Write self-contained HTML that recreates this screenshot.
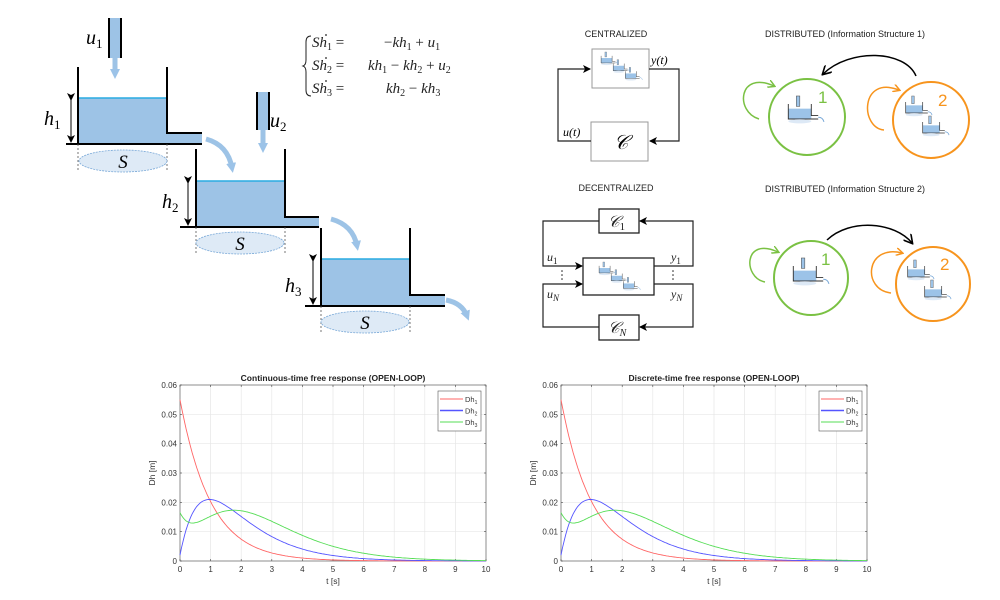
<!DOCTYPE html>
<html><head><meta charset="utf-8"><style>
html,body{margin:0;padding:0;background:#fff;}
svg{display:block;}
.m{font-family:"Liberation Serif",serif;font-style:italic;}
.a{font-family:"Liberation Sans",sans-serif;}
</style></head><body>
<svg id="sv" width="1000" height="600" viewBox="0 0 1000 600" xmlns="http://www.w3.org/2000/svg">
<defs>
<marker id="ah" markerWidth="8" markerHeight="8" refX="7" refY="4" orient="auto" markerUnits="userSpaceOnUse"><path d="M0,0 L8,4 L0,8 L2,4z" fill="#000"/></marker>
<marker id="bh" markerWidth="10" markerHeight="10" refX="5" refY="5" orient="auto" markerUnits="userSpaceOnUse"><path d="M0,0 L10,5 L0,10z" fill="#9cc3e8"/></marker>
<marker id="gh" markerWidth="8" markerHeight="8" refX="6" refY="4" orient="auto" markerUnits="userSpaceOnUse"><path d="M0,0 L7,4 L0,8" fill="none" stroke="#7ac143" stroke-width="1.5"/></marker>
<marker id="oh" markerWidth="8" markerHeight="8" refX="6" refY="4" orient="auto" markerUnits="userSpaceOnUse"><path d="M0,0 L7,4 L0,8" fill="none" stroke="#f7941d" stroke-width="1.5"/></marker>
<marker id="kh" markerWidth="10" markerHeight="10" refX="8" refY="5" orient="auto" markerUnits="userSpaceOnUse"><path d="M0,0 L9,5 L0,10" fill="none" stroke="#000" stroke-width="1.6"/></marker>
<g id="t1">
 <rect x="9" y="0" width="3" height="9" fill="#9cc3e8" stroke="#555" stroke-width="0.5"/>
 <rect x="2" y="11" width="20" height="9" fill="#9cc3e8"/>
 <path d="M2,7 V20 H28 M22,7 V17 H28" fill="none" stroke="#333" stroke-width="0.8"/>
 <path d="M28,18.5 q4,0 5,4" fill="none" stroke="#7aa9d8" stroke-width="0.9"/>
 <ellipse cx="12" cy="22" rx="10" ry="1.8" fill="#dde9f6"/>
</g>
<g id="ico">
 <use href="#t1" x="0" y="0"/>
 <use href="#t1" x="22" y="14"/>
 <use href="#t1" x="44" y="28"/>
</g>
</defs>

<!-- TANKS -->
<g fill="#9dc3e6">
<rect x="78" y="98" width="89" height="46"/><rect x="167" y="133" width="35" height="11"/>
<rect x="196" y="181" width="89" height="46"/><rect x="285" y="217" width="34" height="10"/>
<rect x="321" y="259" width="89" height="47"/><rect x="410" y="295" width="35" height="11"/>
</g>
<g stroke="#29abe2" stroke-width="1.5"><line x1="78" y1="98" x2="167" y2="98"/><line x1="196" y1="181" x2="285" y2="181"/><line x1="321" y1="259" x2="410" y2="259"/></g>
<g fill="none" stroke="#000" stroke-width="2">
<path d="M78,67 V144 H202 M167,67 V133 H202"/>
<path d="M66,144 H78"/>
<path d="M196,149 V227 H319 M285,149 V217 H319"/>
<path d="M180,227 H196"/>
<path d="M321,228 V306 H445 M410,228 V295 H445"/>
<path d="M305,306 H321"/>
</g>
<g stroke="#000" stroke-width="1">
<line x1="71" y1="100" x2="71" y2="142" marker-start="url(#ah)" marker-end="url(#ah)"/>
<line x1="188" y1="183" x2="188" y2="225" marker-start="url(#ah)" marker-end="url(#ah)"/>
<line x1="313" y1="261" x2="313" y2="304" marker-start="url(#ah)" marker-end="url(#ah)"/>
</g>
<g stroke="#555" stroke-width="0.8" stroke-dasharray="2,2">
<line x1="78" y1="144" x2="78" y2="172"/><line x1="167" y1="144" x2="167" y2="172"/>
<line x1="196" y1="227" x2="196" y2="255"/><line x1="285" y1="227" x2="285" y2="255"/>
<line x1="321" y1="306" x2="321" y2="334"/><line x1="410" y1="306" x2="410" y2="334"/>
</g>
<g fill="#deeaf6" stroke="#7aa9d8" stroke-width="0.8" stroke-dasharray="2,1">
<ellipse cx="123" cy="161" rx="44" ry="11"/><ellipse cx="240" cy="243" rx="44" ry="11"/><ellipse cx="365" cy="322" rx="44" ry="11"/>
</g>
<g class="m" font-size="19" fill="#000" text-anchor="middle">
<text x="123" y="168">S</text><text x="240" y="250">S</text><text x="365" y="329">S</text>
</g>
<g class="m" font-size="20">
<text x="44" y="125">h<tspan font-size="13" dy="4" font-style="normal">1</tspan></text>
<text x="162" y="208">h<tspan font-size="13" dy="4" font-style="normal">2</tspan></text>
<text x="285" y="292">h<tspan font-size="13" dy="4" font-style="normal">3</tspan></text>
<text x="86" y="44">u<tspan font-size="13" dy="4" font-style="normal">1</tspan></text>
<text x="270" y="127">u<tspan font-size="13" dy="4" font-style="normal">2</tspan></text>
</g>
<rect x="109" y="18" width="12" height="40" fill="#9dc3e6"/>
<path d="M109,18 V58 M121,18 V58" stroke="#000" stroke-width="2"/>
<rect x="257" y="92" width="12" height="38" fill="#9dc3e6"/>
<path d="M257,92 V130 M269,92 V130" stroke="#000" stroke-width="2"/>
<g stroke="#9dc3e6" stroke-width="5" fill="none">
<line x1="115" y1="58" x2="115" y2="74" marker-end="url(#bh)"/>
<line x1="263" y1="130" x2="263" y2="148" marker-end="url(#bh)"/>
<path d="M206,139 Q228,145 232,168" marker-end="url(#bh)"/>
<path d="M331,219 Q353,225 357,246" marker-end="url(#bh)"/>
<path d="M446,300 Q462,303 467,316" marker-end="url(#bh)"/>
</g>
<!-- equations -->
<path d="M311,36 Q306,36 306,42 V60 Q306,65 303,66 Q306,67 306,72 V90 Q306,96 311,96" fill="none" stroke="#222" stroke-width="1"/>
<g class="m" font-size="15" fill="#222">
<text x="312" y="47">Sh<tspan font-size="10" dy="3" font-style="normal">1</tspan><tspan dy="-3" font-style="normal">  =</tspan></text>
<text x="312" y="70">Sh<tspan font-size="10" dy="3" font-style="normal">2</tspan><tspan dy="-3" font-style="normal">  =</tspan></text>
<text x="312" y="93">Sh<tspan font-size="10" dy="3" font-style="normal">3</tspan><tspan dy="-3" font-style="normal">  =</tspan></text>
<text x="384" y="47"><tspan font-style="normal">−</tspan>kh<tspan font-size="10" dy="3" font-style="normal">1</tspan><tspan dy="-3" font-style="normal"> + </tspan>u<tspan font-size="10" dy="3" font-style="normal">1</tspan></text>
<text x="368" y="70">kh<tspan font-size="10" dy="3" font-style="normal">1</tspan><tspan dy="-3" font-style="normal"> − </tspan>kh<tspan font-size="10" dy="3" font-style="normal">2</tspan><tspan dy="-3" font-style="normal"> + </tspan>u<tspan font-size="10" dy="3" font-style="normal">2</tspan></text>
<text x="386" y="93">kh<tspan font-size="10" dy="3" font-style="normal">2</tspan><tspan dy="-3" font-style="normal"> − </tspan>kh<tspan font-size="10" dy="3" font-style="normal">3</tspan></text>
</g>
<g fill="#222"><circle cx="326" cy="35" r="0.9"/><circle cx="326" cy="58" r="0.9"/><circle cx="326" cy="81" r="0.9"/></g>

<g class="a" font-size="9" fill="#222" text-anchor="middle">
<text x="616" y="37">CENTRALIZED</text>
<text x="616" y="191">DECENTRALIZED</text>
<text x="845" y="37">DISTRIBUTED (Information Structure 1)</text>
<text x="845" y="192">DISTRIBUTED (Information Structure 2)</text>
</g>
<!-- CENTRALIZED -->
<rect x="592" y="49" width="57" height="39" fill="#fff" stroke="#999" stroke-width="1"/>
<use href="#ico" transform="translate(600,52) scale(0.55)"/>
<rect x="591" y="122" width="57" height="39" fill="#fff" stroke="#999" stroke-width="1"/>
<g fill="none" stroke="#222" stroke-width="1.2">
<path d="M591,141 H558 V69 H590" marker-end="url(#ah)"/>
<path d="M649,69 H679 V141 H650" marker-end="url(#ah)"/>
</g>
<text x="621" y="149" font-family="Liberation Serif,serif" font-style="italic" font-size="20" text-anchor="middle">𝒞</text>
<text x="651" y="64" class="m" font-size="12">y(t)</text>
<text x="563" y="136" class="m" font-size="12">u(t)</text>

<!-- DECENTRALIZED -->
<rect x="599" y="209" width="40" height="24" fill="#fff" stroke="#222" stroke-width="1.3"/>
<rect x="583" y="258" width="71" height="37" fill="#fff" stroke="#222" stroke-width="1.3"/>
<rect x="599" y="315" width="40" height="25" fill="#fff" stroke="#222" stroke-width="1.3"/>
<use href="#ico" transform="translate(598,262) scale(0.55)"/>
<g fill="none" stroke="#222" stroke-width="1.2">
<path d="M599,221 H543 V266 H582" marker-end="url(#ah)"/>
<path d="M599,327 H543 V284 H582" marker-end="url(#ah)"/>
<path d="M654,266 H693 V221 H640" marker-end="url(#ah)"/>
<path d="M654,284 H693 V327 H640" marker-end="url(#ah)"/>
</g>
<g font-family="Liberation Serif,serif" font-style="italic" font-size="16" fill="#222">
<text x="608" y="227">𝒞<tspan font-size="11" dy="3" font-style="normal">1</tspan></text>
<text x="608" y="333">𝒞<tspan font-size="10" dy="3">N</tspan></text>
</g>
<g class="m" font-size="12" fill="#222">
<text x="547" y="261">u<tspan font-size="9" dy="3" font-style="normal">1</tspan></text>
<text x="547" y="298">u<tspan font-size="9" dy="3">N</tspan></text>
<text x="671" y="261">y<tspan font-size="9" dy="3" font-style="normal">1</tspan></text>
<text x="671" y="298">y<tspan font-size="9" dy="3">N</tspan></text>
</g>
<g fill="#222"><circle cx="562" cy="271" r="0.8"/><circle cx="562" cy="275" r="0.8"/><circle cx="562" cy="279" r="0.8"/>
<circle cx="673" cy="271" r="0.8"/><circle cx="673" cy="275" r="0.8"/><circle cx="673" cy="279" r="0.8"/></g>

<!-- DISTRIBUTED 1 -->
<circle cx="807" cy="117" r="38" fill="none" stroke="#7ac143" stroke-width="2"/>
<circle cx="931" cy="120" r="38" fill="none" stroke="#f7941d" stroke-width="2"/>
<path d="M759,119 C735,112 738,70 774,86" fill="none" stroke="#7ac143" stroke-width="1.5" marker-end="url(#gh)"/>
<path d="M884,130 C860,128 860,75 899,90" fill="none" stroke="#f7941d" stroke-width="1.5" marker-end="url(#oh)"/>
<path d="M916,76 C905,50 850,48 823,74" fill="none" stroke="#000" stroke-width="1.5" marker-end="url(#kh)"/>
<text x="818" y="103" class="a" font-size="17" fill="#7ac143">1</text>
<text x="938" y="106" class="a" font-size="17" fill="#f7941d">2</text>
<use href="#t1" transform="translate(786,96) scale(1.15)"/>
<use href="#t1" transform="translate(904,96) scale(0.85)"/>
<use href="#t1" transform="translate(921,116) scale(0.85)"/>

<!-- DISTRIBUTED 2 -->
<circle cx="811" cy="278" r="37" fill="none" stroke="#7ac143" stroke-width="2"/>
<circle cx="933" cy="284" r="37" fill="none" stroke="#f7941d" stroke-width="2"/>
<path d="M765,282 C743,278 743,236 778,252" fill="none" stroke="#7ac143" stroke-width="1.5" marker-end="url(#gh)"/>
<path d="M891,293 C862,290 865,244 902,253" fill="none" stroke="#f7941d" stroke-width="1.5" marker-end="url(#oh)"/>
<path d="M827,240 C850,218 895,222 912,243" fill="none" stroke="#000" stroke-width="1.5" marker-end="url(#kh)"/>
<text x="821" y="265" class="a" font-size="17" fill="#7ac143">1</text>
<text x="940" y="270" class="a" font-size="17" fill="#f7941d">2</text>
<use href="#t1" transform="translate(791,258) scale(1.15)"/>
<use href="#t1" transform="translate(906,260) scale(0.85)"/>
<use href="#t1" transform="translate(923,280) scale(0.85)"/>

<g id="plots"></g>
</svg>
<script>
(function(){
var NS="http://www.w3.org/2000/svg",g=document.getElementById("plots");
function el(t,a,txt){var e=document.createElementNS(NS,t);for(var k in a)e.setAttribute(k,a[k]);if(txt!==undefined)e.textContent=txt;g.appendChild(e);return e;}
function f1(t){return 0.055*Math.exp(-t);}
function f2(t){return Math.exp(-t)*(0.002+0.055*t);}
function f3(t){return Math.exp(-t)*(0.0165-0.005*t+0.03*t*t);}
function plot(ox,title){
 var L=ox,R=ox+306,T=385,B=561;
 function X(t){return L+(R-L)*t/10;} function Y(v){return B-(B-T)*v/0.06;}
 for(var i=1;i<10;i++)el("line",{x1:X(i),y1:T,x2:X(i),y2:B,stroke:"#e6e6e6","stroke-width":0.7});
 for(var j=1;j<6;j++)el("line",{x1:L,y1:Y(j*0.01),x2:R,y2:Y(j*0.01),stroke:"#e6e6e6","stroke-width":0.7});
 el("rect",{x:L,y:T,width:R-L,height:B-T,fill:"none",stroke:"#444","stroke-width":0.6});
 for(var i=0;i<=10;i++){el("line",{x1:X(i),y1:B,x2:X(i),y2:B-2,stroke:"#444","stroke-width":0.6});el("line",{x1:X(i),y1:T,x2:X(i),y2:T+2,stroke:"#444","stroke-width":0.6});
  el("text",{x:X(i),y:B+11,"font-size":8,"text-anchor":"middle",fill:"#333","font-family":"Liberation Sans,sans-serif"},String(i));}
 for(var j=0;j<=6;j++){var lbl=j==0?"0":(j/100).toFixed(2);el("line",{x1:L,y1:Y(j*0.01),x2:L+2,y2:Y(j*0.01),stroke:"#444","stroke-width":0.6});el("line",{x1:R,y1:Y(j*0.01),x2:R-2,y2:Y(j*0.01),stroke:"#444","stroke-width":0.6});
  el("text",{x:L-3,y:Y(j*0.01)+3,"font-size":8,"text-anchor":"end",fill:"#333","font-family":"Liberation Sans,sans-serif"},lbl);}
 [[f1,"#ff6666"],[f2,"#5555ff"],[f3,"#55dd55"]].forEach(function(c){var d="";for(var k=0;k<=200;k++){var t=k/20;d+=(k?"L":"M")+X(t).toFixed(1)+","+Y(c[0](t)).toFixed(1);}el("path",{d:d,fill:"none",stroke:c[1],"stroke-width":0.9});});
 el("text",{x:(L+R)/2,y:381,"font-size":8.5,"font-weight":"bold","text-anchor":"middle",fill:"#222","font-family":"Liberation Sans,sans-serif"},title);
 el("text",{x:(L+R)/2,y:584,"font-size":8.5,"text-anchor":"middle",fill:"#333","font-family":"Liberation Sans,sans-serif"},"t [s]");
 el("text",{x:0,y:0,"font-size":8.5,"text-anchor":"middle",fill:"#333","font-family":"Liberation Sans,sans-serif",transform:"translate("+(L-25)+",473) rotate(-90)"},"Dh [m]");
 var lx=ox+258,ly=391;el("rect",{x:lx,y:ly,width:43,height:40,fill:"#fff",stroke:"#555","stroke-width":0.6});
 [["#ff6666","1"],["#5555ff","2"],["#55dd55","3"]].forEach(function(c,i){var yy=ly+8+i*11.5;el("line",{x1:lx+2,y1:yy,x2:lx+25,y2:yy,stroke:c[0],"stroke-width":i==1?1.5:1});
  var t=el("text",{x:lx+27,y:yy+3,"font-size":7.5,fill:"#333","font-family":"Liberation Sans,sans-serif"});t.innerHTML='Dh<tspan font-size="5" dy="2">'+c[1]+'</tspan>';});
}
plot(180,"Continuous-time free response (OPEN-LOOP)");
plot(561,"Discrete-time free response (OPEN-LOOP)");
})();
</script>
</body></html>
